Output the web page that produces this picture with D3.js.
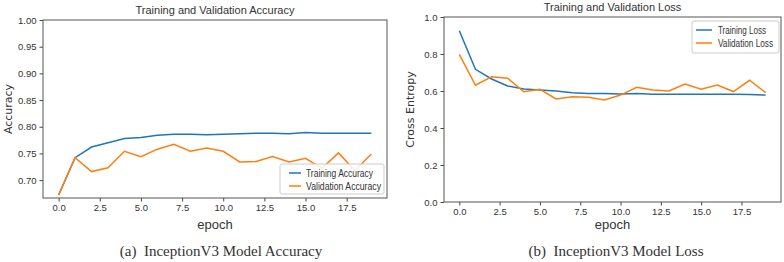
<!DOCTYPE html>
<html><head><meta charset="utf-8">
<script src="https://cdn.jsdelivr.net/npm/d3@7"></script>
<style>
body{margin:0;background:#fff;}
svg{display:block;}
text{font-family:"Liberation Sans","DejaVu Sans",sans-serif;fill:#333;}
</style></head>
<body>
<svg id="c" width="784" height="262"></svg>
<script>
const epochs = d3.range(0, 20);
const xTicks = [0, 2.5, 5, 7.5, 10, 12.5, 15, 17.5];
const accTrain = [0.672,0.742,0.762,0.770,0.778,0.780,0.784,0.786,0.786,0.785,0.786,0.787,0.788,0.788,0.787,0.789,0.788,0.788,0.788,0.788];
const accVal   = [0.672,0.742,0.716,0.723,0.754,0.744,0.758,0.767,0.754,0.760,0.754,0.734,0.735,0.744,0.734,0.741,0.722,0.751,0.718,0.749];
const accTicks = [0.70,0.75,0.80,0.85,0.90,0.95,1.00];
const lossTrain = [0.926,0.717,0.665,0.627,0.611,0.605,0.600,0.591,0.587,0.586,0.584,0.587,0.583,0.582,0.583,0.583,0.582,0.582,0.581,0.578];
const lossVal   = [0.798,0.631,0.677,0.669,0.596,0.609,0.557,0.569,0.566,0.551,0.578,0.620,0.606,0.600,0.638,0.609,0.632,0.597,0.658,0.591];
const lossTicks = [0.0,0.2,0.4,0.6,0.8,1.0];

const svg = d3.select("#c");
const BLUE = "#1f77b4", ORANGE = "#ff7f0e";

function panel(o) {
  const x = d3.scaleLinear().domain([-0.95, 19.95]).range([o.left, o.right]);
  const y = d3.scaleLinear().domain(o.ydom).range([o.bottom, o.top]);
  const g = svg.append("g");
  const xa = g.append("g").attr("transform", `translate(0,${o.bottom})`)
    .call(d3.axisBottom(x).tickValues(xTicks).tickFormat(d3.format(".1f")).tickSize(3.5).tickPadding(3));
  const ya = g.append("g").attr("transform", `translate(${o.left},0)`)
    .call(d3.axisLeft(y).tickValues(o.yticks).tickFormat(d3.format(o.yfmt)).tickSize(3.5).tickPadding(3));
  [xa, ya].forEach(a => {
    a.select(".domain").remove();
    a.selectAll("line").attr("stroke", "#444");
    a.selectAll("text").style("font-size", "9.5px").attr("fill", "#333");
  });
  g.append("rect").attr("x", o.left).attr("y", o.top)
    .attr("width", o.right - o.left).attr("height", o.bottom - o.top)
    .attr("fill", "none").attr("stroke", "#555").attr("stroke-width", 1);
  const line = d3.line().x((d, i) => x(epochs[i])).y(d => y(d));
  g.append("path").datum(o.s1).attr("d", line).attr("fill", "none").attr("stroke", BLUE).attr("stroke-width", 1.5);
  g.append("path").datum(o.s2).attr("d", line).attr("fill", "none").attr("stroke", ORANGE).attr("stroke-width", 1.5);
  g.append("text").attr("x", (o.left + o.right) / 2).attr("y", o.top - 6)
    .attr("text-anchor", "middle").style("font-size", "11px").text(o.title);
  g.append("text").attr("x", (o.left + o.right) / 2).attr("y", 229)
    .attr("text-anchor", "middle").style("font-size", "13px").text("epoch");
  g.append("text").attr("transform", `translate(${o.ylabX},${(o.top + o.bottom) / 2}) rotate(-90)`)
    .attr("text-anchor", "middle").style("font-size", "11px").style("font-family", "'DejaVu Sans',sans-serif").text(o.ylabel);
  const L = o.legend;
  g.append("rect").attr("x", L.x).attr("y", L.y).attr("width", L.w).attr("height", L.h)
    .attr("rx", 2).attr("fill", "#fff").attr("fill-opacity", 0.85).attr("stroke", "#ccc");
  [[o.n1, BLUE, L.t1], [o.n2, ORANGE, L.t2]].forEach(([n, c, tl], i) => {
    const yy = L.y + 9 + i * 13;
    g.append("line").attr("x1", L.x + L.l0).attr("x2", L.x + L.l1).attr("y1", yy).attr("y2", yy)
      .attr("stroke", c).attr("stroke-width", 1.5);
    g.append("text").attr("x", L.x + L.tx).attr("y", yy + 3.5).style("font-size", "10px")
      .attr("textLength", tl).attr("lengthAdjust", "spacingAndGlyphs").text(n);
  });
  g.append("text").attr("x", o.capX).attr("y", 256).attr("text-anchor", "middle")
    .style("font-family", "'Liberation Serif','Times New Roman',serif").style("font-size", "15px").attr("fill", "#111")
    .attr("xml:space", "preserve").text(o.caption);
}

panel({left: 43, right: 387, top: 20, bottom: 198, ydom: [0.6665, 1.0], yticks: accTicks, yfmt: ".2f",
  s1: accTrain, s2: accVal, title: "Training and Validation Accuracy", ylabel: "Accuracy", ylabX: 12,
  n1: "Training Accuracy", n2: "Validation Accuracy",
  legend: {x: 280, y: 164, w: 104, h: 30, l0: 9, l1: 21, tx: 26, t1: 67, t2: 75},
  caption: "(a)  InceptionV3 Model Accuracy", capX: 221});

panel({left: 444, right: 781, top: 17, bottom: 202, ydom: [0, 1.0], yticks: lossTicks, yfmt: ".1f",
  s1: lossTrain, s2: lossVal, title: "Training and Validation Loss", ylabel: "Cross Entropy", ylabX: 414,
  n1: "Training Loss", n2: "Validation Loss",
  legend: {x: 692, y: 21, w: 87, h: 32, l0: 4, l1: 20, tx: 26, t1: 48, t2: 55},
  caption: "(b)  InceptionV3 Model Loss", capX: 616});
</script>
</body></html>
